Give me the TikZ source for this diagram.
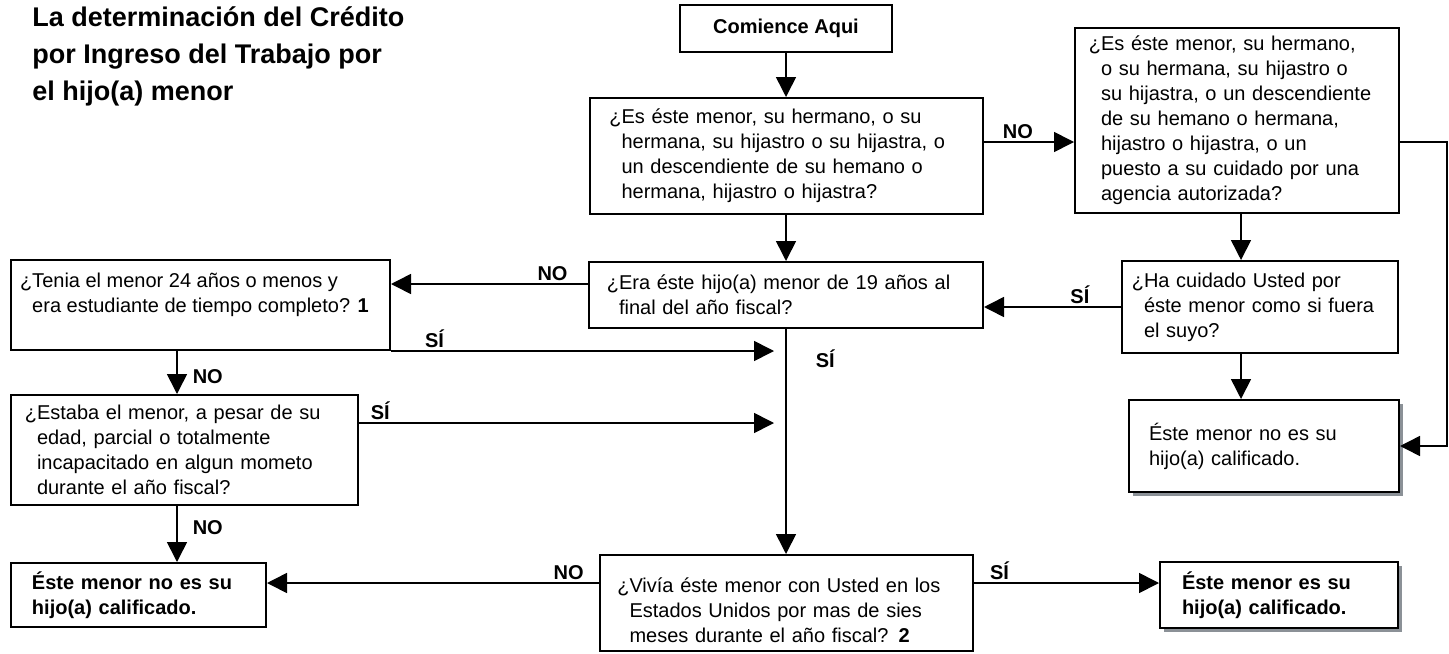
\documentclass[tikz,border=0pt]{standalone}
\usepackage{fontspec}
\setmainfont{Liberation Sans}
\usetikzlibrary{arrows.meta, positioning, shadows}
\definecolor{shadowgray}{RGB}{139,145,151}

\begin{document}
\begin{tikzpicture}[
    x=0.5pt, y=-0.5pt,
    qbox/.style={rectangle, draw, line width=1pt, fill=white, align=left, inner ysep=2pt, font=\fontsize{10}{12.5}\selectfont},
    endbox/.style={qbox, font=\fontsize{10}{12.5}\selectfont\bfseries},
    startbox/.style={qbox, align=center, font=\fontsize{10}{12.5}\selectfont\bfseries},
    shade/.style={drop shadow={shadow xshift=2pt, shadow yshift=-2pt, fill=shadowgray, opacity=1}},
    title/.style={align=left, inner sep=0pt, font=\fontsize{13.5}{18.5}\selectfont\bfseries},
    lbl/.style={font=\fontsize{10}{12}\selectfont\bfseries, inner sep=1.5pt},
    arrow/.style={line width=0.8pt, -{Triangle[length=10pt, width=10pt]}}
]
    \useasboundingbox (0,0) rectangle (1449,653);

    \node[title, anchor=north west] (title) at (32,6) {La determinación del Crédito\\por Ingreso del Trabajo por\\el hijo(a) menor};

    \node[startbox, minimum width=106pt, minimum height=23.5pt] (start) at (786,28.5) {Comience Aqui};
    \node[qbox, text width=164.5pt, inner xsep=16pt, minimum height=58pt] (q1) at (786,156)
        {\llap{¿}Es éste menor, su hermano, o su\\hermana, su hijastro o su hijastra, o\\un descendiente de su hemano o\\hermana, hijastro o hijastra?};
    \node[qbox, text width=136pt, inner xsep=13pt, minimum height=92.5pt] (q2) at (1237,120.5)
        {\llap{¿}Es éste menor, su hermano,\\o su hermana, su hijastro o\\su hijastra, o un descendiente\\de su hemano o hermana,\\hijastro o hijastra, o un\\puesto a su cuidado por una\\agencia autorizada?};
    \node[qbox, text width=167pt, inner xsep=15pt, minimum height=33pt] (q3) at (786,295)
        {\llap{¿}Era éste hijo(a) menor de 19 años al\\final del año fiscal?};
    \node[qbox, text width=116pt, inner xsep=11pt, minimum height=46pt] (q4) at (1260,307)
        {\llap{¿}Ha cuidado Usted por\\éste menor como si fuera\\el suyo?};
    \node[qbox, shade, text width=115pt, inner xsep=10pt, minimum height=46pt] (rightno) at (1264,446)
        {Éste menor no es su\\hijo(a) calificado.};
    \node[qbox, minimum width=189.5pt, minimum height=45pt, text depth=12pt] (tenia) at (200.5,305)
        {\llap{¿}Tenia el menor 24 años o menos y\\era estudiante de tiempo completo? \textbf{1}};
    \node[qbox, text width=147.5pt, inner xsep=13pt, minimum height=55pt] (estaba) at (184.5,450)
        {\llap{¿}Estaba el menor, a pesar de su\\edad, parcial o totalmente\\incapacitado en algun mometo\\durante el año fiscal?};
    \node[endbox, text width=106.5pt, inner xsep=10.5pt, minimum height=32pt] (leftno) at (138.5,595)
        {Éste menor no es su\\hijo(a) calificado.};
    \node[qbox, text width=156.5pt, inner xsep=15pt, minimum height=48pt, text height=15pt] (q5) at (786,603)
        {\llap{¿}Vivía éste menor con Usted en los\\Estados Unidos por mas de sies\\meses durante el año fiscal? \textbf{2}};
    \node[endbox, shade, text width=97pt, inner xsep=11pt, minimum height=33pt] (es) at (1279,595)
        {Éste menor es su\\hijo(a) calificado.};

    \draw[arrow] (start) -- (q1);
    \draw[arrow] ([yshift=7pt]q1.east) -- ([yshift=7pt]q1.east -| q2.west) node[lbl, above, pos=0.38] {NO};
    \draw[arrow] ([yshift=-10.75pt]q2.east) -- ++(47,0) |- (rightno.east);
    \draw[arrow] ([xshift=2pt]q2.south) -- ([xshift=2pt]q2.south |- q4.north);
    \draw[arrow] (q4.west) -- (q4.west -| q3.east) node[lbl, above, pos=0.3] {SÍ};
    \draw[arrow] ([xshift=-9.5pt]q4.south) -- ([xshift=-9.5pt]q4.south |- rightno.north);
    \draw[arrow] (q1) -- (q3);
    \draw[arrow] ([yshift=5.5pt]q3.west) -- ([yshift=5.5pt]q3.west -| tenia.east) node[lbl, above, pos=0.18] {NO};
    \draw[arrow, shorten >=6pt] (tenia.south east) -- (tenia.south east -| q3.south) node[lbl, above, pos=0.11] {SÍ};
    \draw[arrow] (q3) -- (q5) node[lbl, right=13pt, pos=0.13] {SÍ};
    \draw[arrow, shorten >=6pt] ([yshift=13.5pt]estaba.east) -- ([yshift=13.5pt]estaba.east -| q3.south) node[lbl, above, pos=0.05] {SÍ};
    \draw[arrow] ([xshift=-11.75pt]tenia.south) -- ([xshift=-11.75pt]tenia.south |- estaba.north) node[lbl, right=6pt, pos=0.6] {NO};
    \draw[arrow] ([xshift=-3.75pt]estaba.south) -- ([xshift=-3.75pt]estaba.south |- leftno.north) node[lbl, right=6pt, pos=0.38] {NO};
    \draw[arrow] ([yshift=10pt]q5.west) -- ([yshift=10pt]q5.west -| leftno.east) node[lbl, above, pos=0.09] {NO};
    \draw[arrow] ([yshift=10pt]q5.east) -- ([yshift=10pt]q5.east -| es.west) node[lbl, above, pos=0.14] {SÍ};
\end{tikzpicture}
\end{document}
